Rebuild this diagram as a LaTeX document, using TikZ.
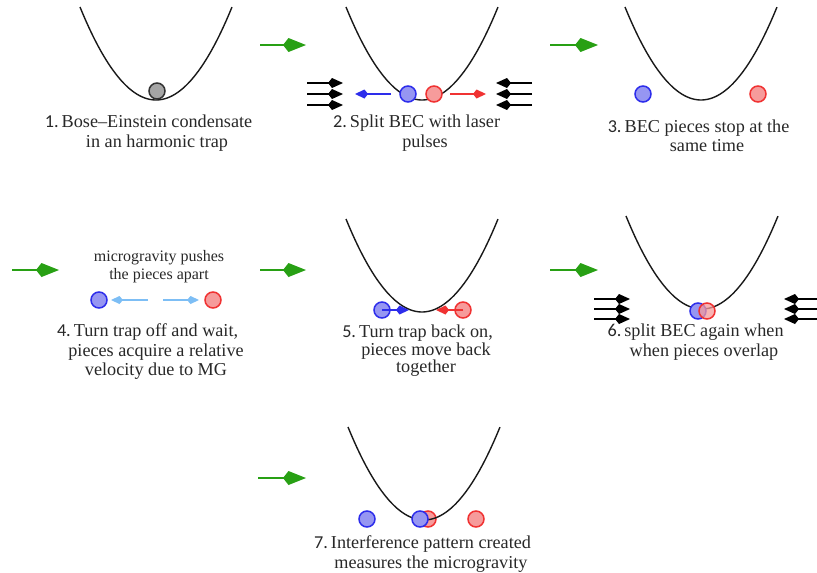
\documentclass[tikz,border=0pt]{standalone}
\usepackage{fontspec}
\setmainfont{Liberation Serif}
\newfontfamily\numfont{Carlito}
\usetikzlibrary{arrows.meta}
\definecolor{grn}{RGB}{40,160,20}
\definecolor{bdraw}{RGB}{45,45,235}
\definecolor{bfill}{RGB}{150,150,242}
\definecolor{rdraw}{RGB}{240,50,50}
\definecolor{rfill}{RGB}{246,155,155}
\definecolor{gdraw}{RGB}{50,50,50}
\definecolor{gfill}{RGB}{165,165,165}
\definecolor{lblue}{RGB}{125,190,245}
\definecolor{txtc}{RGB}{40,40,40}
\begin{document}
\begin{tikzpicture}[x=1pt,y=-1pt,
  trapline/.style={line width=1.4pt, black!90},
  trap/.pic={\draw[trapline] plot[domain=-1:1,samples=60,smooth] ({76*\x},{-93*\x*\x});},
  ball/.style={circle, minimum size=16pt, inner sep=0pt, line width=1.5pt},
  blueball/.style={ball, draw=bdraw, fill=bfill},
  redball/.style={ball, draw=rdraw, fill=rfill},
  grayball/.style={ball, draw=gdraw, fill=gfill},
  garr/.style={grn, line width=2.6pt, -{Kite[length=23pt,width=14pt,inset=5.5pt]}},
  laser/.style={black, line width=2pt, -{Kite[length=15pt,width=10pt,inset=4pt]}},
  barr/.style={bdraw, line width=1.5pt, -{Kite[length=13pt,width=9pt,inset=3.5pt]}},
  rarr/.style={rdraw, line width=1.5pt, -{Kite[length=13pt,width=9pt,inset=3.5pt]}},
  lbarr/.style={lblue, line width=1.5pt, -{Kite[length=12pt,width=8pt,inset=3.5pt]}},
  txt/.style={align=center, text=txtc, inner sep=0pt, font=\fontsize{18.2}{19.5}\selectfont},
  smalltxt/.style={align=center, text=txtc, inner sep=0pt, font=\fontsize{16}{18}\selectfont},
]
\useasboundingbox (0,0) rectangle (817,573);

% ---------- green step arrows
\coordinate (g1a) at (260,45); \coordinate (g1b) at (306,45);
\coordinate (g2a) at (550,45); \coordinate (g2b) at (598,45);
\coordinate (g3a) at (12,270); \coordinate (g3b) at (59,270);
\coordinate (g4a) at (260,270); \coordinate (g4b) at (306,270);
\coordinate (g5a) at (550,270); \coordinate (g5b) at (598,270);
\coordinate (g6a) at (258,478); \coordinate (g6b) at (306,478);
\foreach \i in {1,...,6} {\draw[garr] (g\i a) -- (g\i b);}

% ---------- panel 1
\pic at (156,100) {trap};
\node[grayball] (p1g) at (157,91) {};
\node[txt] (t1) at (157,133) {\llap{\numfont 1.\,}Bose–Einstein condensate\\in an harmonic trap};

% ---------- panel 2
\pic at (422,100) {trap};
\node[blueball] (p2b) at (408,94) {};
\node[redball] (p2r) at (434,94) {};
\coordinate (p2ba) at (391,94); \coordinate (p2bb) at (355,94);
\coordinate (p2ra) at (450,94); \coordinate (p2rb) at (486,94);
\draw[barr] (p2ba) -- (p2bb);
\draw[rarr] (p2ra) -- (p2rb);
\foreach \y [count=\k] in {83,94,105} {
  \coordinate (p2l\k a) at (307,\y); \coordinate (p2l\k b) at (343,\y);
  \coordinate (p2r\k a) at (532,\y); \coordinate (p2r\k b) at (496,\y);
  \draw[laser] (p2l\k a) -- (p2l\k b);
  \draw[laser] (p2r\k a) -- (p2r\k b);
}
\node[txt] (t2) at (425,133) {\llap{\numfont 2.\,}Split BEC with laser\\pulses};

% ---------- panel 3
\pic at (701,100) {trap};
\node[blueball] (p3b) at (643,94) {};
\node[redball] (p3r) at (758,94) {};
\node[txt] (t3) at (707,136) {\llap{\numfont 3.\,}BEC pieces stop at the\\same time};

% ---------- panel 4
\node[smalltxt] (t4a) at (159,267) {microgravity pushes\\the pieces apart};
\node[blueball] (p4b) at (99,300) {};
\node[redball] (p4r) at (213,300) {};
\coordinate (p4ba) at (148,300); \coordinate (p4bb) at (111,300);
\coordinate (p4ra) at (163,300); \coordinate (p4rb) at (199,300);
\draw[lbarr] (p4ba) -- (p4bb);
\draw[lbarr] (p4ra) -- (p4rb);
\node[txt] (t4) at (156,352) {\llap{\numfont 4.\,}Turn trap off and wait,\\pieces acquire a relative\\velocity due to MG};

% ---------- panel 5
\pic at (422,312) {trap};
\node[blueball] (p5b) at (382,310) {};
\node[redball] (p5r) at (463,310) {};
\coordinate (p5bb) at (409,310); \coordinate (p5rb) at (436,310);
\draw[barr] (p5b.center) -- (p5bb);
\draw[rarr] (p5r.center) -- (p5rb);
\node[txt, font=\fontsize{18.2}{16.5}\selectfont] (t5) at (426,351) {\llap{\numfont 5.\,}Turn trap back on,\\pieces move back\\together};

% ---------- panel 6
\pic at (702,309) {trap};
\node[blueball] (p6b) at (698,311) {};
\node[redball, fill opacity=0.75] (p6r) at (707,311) {};
\foreach \y [count=\k] in {299,309,319} {
  \coordinate (p6l\k a) at (594,\y); \coordinate (p6l\k b) at (630,\y);
  \coordinate (p6r\k a) at (819,\y); \coordinate (p6r\k b) at (784,\y);
  \draw[laser] (p6l\k a) -- (p6l\k b);
  \draw[laser] (p6r\k a) -- (p6r\k b);
}
\node[txt] (t6) at (704,342) {\llap{\numfont 6.\,}split BEC again when\\when pieces overlap};

% ---------- panel 7
\node[redball] (p7r1) at (428,519) {};
\pic at (424,520) {trap};
\node[blueball] (p7b1) at (420,519) {};
\node[blueball] (p7b0) at (367,519) {};
\node[redball] (p7r2) at (476,519) {};
\node[txt] (t7) at (431,554) {\llap{\numfont 7.\,}Interference pattern created\\measures the microgravity};
\end{tikzpicture}
\end{document}
